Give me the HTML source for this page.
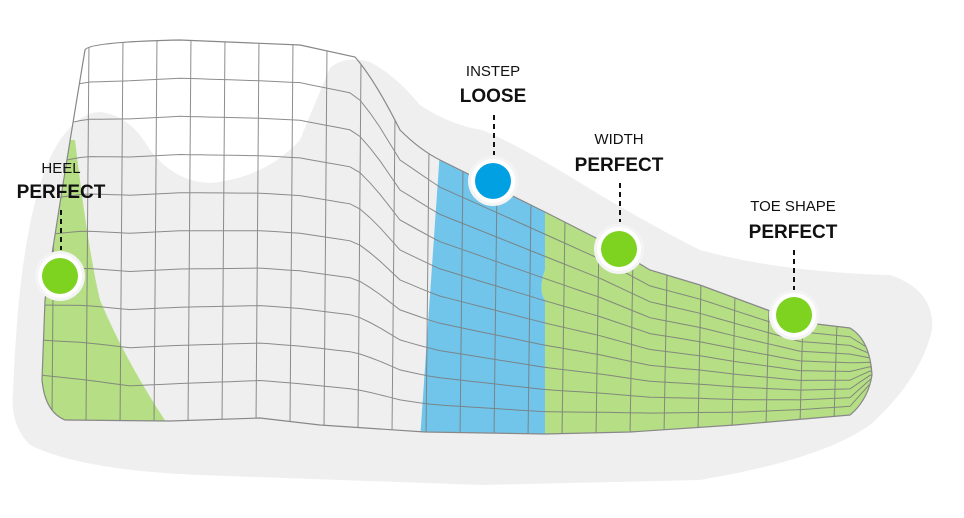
<!DOCTYPE html>
<html><head><meta charset="utf-8"><style>
html,body{margin:0;padding:0;background:#fff;}
svg{display:block;}
text{font-family:"Liberation Sans",sans-serif;fill:#111;text-anchor:middle;}
.lt{font-size:15px;}
.bd{font-size:19px;font-weight:bold;}
</style></head><body>
<svg width="964" height="518" viewBox="0 0 964 518" xmlns="http://www.w3.org/2000/svg">
<defs>
<clipPath id="footclip"><path id="fp" d="M85,50 Q88,42 180,40 L300,45 L355,57 Q375,80 400,130 Q420,150 440,160 L545,212 L600,240 L650,270 L700,285 L800,322 L850,328 Q870,340 872,375 Q868,400 850,415 L735,425 L630,432 L545,434 L425,432 L320,425 L260,418 L170,421 L65,420 Q45,412 42,380 L45,300 Q60,200 85,50 Z"/></clipPath>
</defs>
<path fill="#efefef" d="M13,393 Q20,200 60,140 Q80,112 100,112 Q130,115 150,150 Q175,182 210,183 Q265,178 300,140 Q312,110 330,68 Q345,55 370,62 Q395,75 420,105 Q450,125 482,130 Q520,145 600,195 Q660,230 700,250 Q780,272 890,275 Q935,290 932,330 Q920,380 870,425 Q820,460 700,480 L482,485 L200,475 Q80,470 30,445 Q10,425 13,393 Z"/>
<g clip-path="url(#footclip)">
<path fill="#b5de85" d="M75,140 Q88,250 100,300 Q125,360 168,425 L30,430 L30,140 Z"/>
<path fill="#72c5ea" d="M440,150 L545,200 L545,270 Q538,290 545,300 L545,440 L420,440 Z"/>
<path fill="#b5de85" d="M545,200 L900,200 L900,440 L545,440 L545,300 Q538,290 545,270 Z"/>
<g id="grid" stroke="#7a7a7a" stroke-width="1" fill="none" opacity="0.85"></g>
</g>
<use href="#fp" fill="none" stroke="#888" stroke-width="1.2"/>
<g>
<line x1="61" y1="210" x2="61" y2="250" stroke="#111" stroke-width="2" stroke-dasharray="5,4"/>
<circle cx="60" cy="276" r="25" fill="#f4f4f4"/><circle cx="60" cy="276" r="22" fill="#fff"/><circle cx="60" cy="276" r="18" fill="#7ed321"/>
<text class="lt" x="61" y="173">HEEL</text>
<text class="bd" x="61" y="198">PERFECT</text>
</g>
<g>
<line x1="494" y1="115" x2="494" y2="155" stroke="#111" stroke-width="2" stroke-dasharray="5,4"/>
<circle cx="493" cy="181" r="25" fill="#f4f4f4"/><circle cx="493" cy="181" r="22" fill="#fff"/><circle cx="493" cy="181" r="18" fill="#00a0e3"/>
<text class="lt" x="493" y="76">INSTEP</text>
<text class="bd" x="493" y="102">LOOSE</text>
</g>
<g>
<line x1="620" y1="183" x2="620" y2="222" stroke="#111" stroke-width="2" stroke-dasharray="5,4"/>
<circle cx="619" cy="249" r="25" fill="#f4f4f4"/><circle cx="619" cy="249" r="22" fill="#fff"/><circle cx="619" cy="249" r="18" fill="#7ed321"/>
<text class="lt" x="619" y="144">WIDTH</text>
<text class="bd" x="619" y="171">PERFECT</text>
</g>
<g>
<line x1="794" y1="250" x2="794" y2="290" stroke="#111" stroke-width="2" stroke-dasharray="5,4"/>
<circle cx="794" cy="315" r="25" fill="#f4f4f4"/><circle cx="794" cy="315" r="22" fill="#fff"/><circle cx="794" cy="315" r="18" fill="#7ed321"/>
<text class="lt" x="793" y="211">TOE SHAPE</text>
<text class="bd" x="793" y="238">PERFECT</text>
</g>
</svg>
<script>
var topPts=[[40,60],[85,45],[180,40],[300,45],[355,57],[375,85],[400,130],[440,160],[545,212],[600,240],[650,270],[700,285],[800,322],[850,328],[870,345],[880,375]];
var botPts=[[40,410],[130,424],[260,418],[425,432],[545,434],[735,425],[850,415],[880,375]];
function interp(p,x){for(var i=0;i<p.length-1;i++){if(x>=p[i][0]&&x<=p[i+1][0]){var t=(x-p[i][0])/(p[i+1][0]-p[i][0]);return p[i][1]+t*(p[i+1][1]-p[i][1]);}}return x<p[0][0]?p[0][1]:p[p.length-1][1];}
var g=document.getElementById('grid');
var ns='http://www.w3.org/2000/svg';
for(var x=55;x<=870;x+=34){
var l=document.createElementNS(ns,'line');


l.setAttribute('x1',x);l.setAttribute('y1',interp(topPts,x)-5);l.setAttribute('x2',x-3);l.setAttribute('y2',interp(botPts,x)+5);g.appendChild(l);}
for(var k=1;k<10;k++){var f=k/10,d='';
for(var x2=30;x2<=880;x2+=10){var y=interp(topPts,x2)*(1-f)+interp(botPts,x2)*f;d+=(d?'L':'M')+x2+','+y.toFixed(1);}
var p=document.createElementNS(ns,'path');


p.setAttribute('d',d);g.appendChild(p);}
</script>
</body></html>
